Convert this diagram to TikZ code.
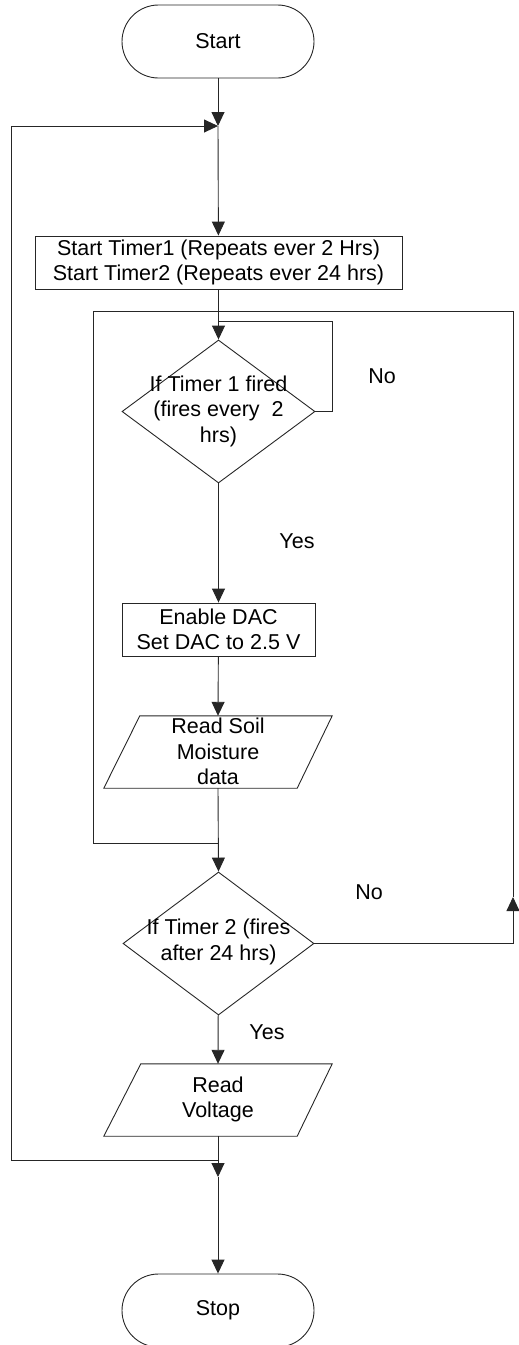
\documentclass[tikz,border=0pt]{standalone}
\usepackage{fontspec}
\setmainfont{Liberation Sans}
\usetikzlibrary{shapes.geometric,arrows.meta,calc}
\begin{document}
\begin{tikzpicture}[x=1pt,y=-1pt,
  every node/.style={font=\fontsize{21.5}{25.5}\selectfont},
  line/.style={draw=black!85, line width=0.9pt},
  arr/.style={line, -{Triangle[length=14pt,width=13pt]}},
  term/.style={line, rectangle, rounded corners=36.5pt, minimum width=192pt, minimum height=73pt, inner sep=0pt},
  procbox/.style={line, rectangle, inner sep=0pt, align=center},
  decision/.style={line, diamond, inner sep=0pt, minimum width=193pt, minimum height=143pt},
  iobox/.style={rectangle, minimum width=228pt, minimum height=72pt, inner sep=0pt},
  txt/.style={inner sep=0pt, align=center}]
\useasboundingbox (0,0) rectangle (519,1345);

% shapes
\node[term] (start) at (218,41.5) {Start};
\node[procbox, minimum width=367pt, minimum height=53pt] (timer) at (218.5,262.5)
  {Start Timer1 (Repeats ever 2 Hrs)\\Start Timer2 (Repeats ever 24 hrs)};
\node[decision] (d1) at (218.5,411.5) {};
\node[txt] (d1t) at (218.5,411) {If Timer 1 fired\\(fires every\ \ 2\\hrs)};
\node[procbox, minimum width=193pt, minimum height=53pt] (dac) at (218.5,629.5)
  {Enable DAC\\Set DAC to 2.5 V};
\node[iobox] (p1) at (218,752) {};
\draw[line] (p1.south west) -- ($(p1.north west)+(36,0)$) -- (p1.north east)
  -- ($(p1.south east)+(-35,0)$) -- cycle;
\node[txt] (p1t) at (218,751.5) {Read Soil\\Moisture\\data};
\node[decision, minimum width=191pt] (d2) at (218.5,943.5) {};
\node[txt] (d2t) at (218.5,942) {If Timer 2 (fires\\after 24 hrs)};
\node[iobox] (p2) at (218,1100) {};
\draw[line] (p2.south west) -- ($(p2.north west)+(37,0)$) -- (p2.north east)
  -- ($(p2.south east)+(-35,0)$) -- cycle;
\node[txt] (p2t) at (218,1099.5) {Read\\Voltage};
\node[term] (stop) at (218,1310.5) {Stop};

% labels
\node[txt] (no1) at (382,376) {No};
\node[txt] (yes1) at (297,541) {Yes};
\node[txt] (no2) at (369,892) {No};
\node[txt] (yes2) at (267,1032) {Yes};

% junction and corner points
\coordinate (j1) at (218,126);
\coordinate (j2) at (218,321);
\coordinate (nl) at (332,321);
\coordinate (j3) at (218,843);
\coordinate (j4) at (218,1160);
\coordinate (j5) at (218,1177);
\coordinate (lb) at (11,1160);
\coordinate (lt) at (11,126);
\coordinate (obl) at (93,843);
\coordinate (otl) at (93,311);
\coordinate (otr) at (513,311);
\coordinate (orr) at (513,897);

% connectors
\draw[arr] (start) -- (j1);
\draw[arr] (j4) -- (lb) -- (lt) -- (j1);
\draw[arr] (j1) -- (timer);
\draw[arr] (timer) -- (d1);
\draw[line] (d1.east) -| (nl) -- (j2);
\draw[arr] (d1) -- (dac);
\draw[arr] (dac) -- (p1.north);
\draw[arr] (p1.south) -- (d2.north);
\draw[line] (j3) -- (obl) -- (otl) -- (otr) -- (orr);
\draw[arr] (d2.east) -| (orr);
\draw[arr] (d2) -- (p2.north);
\draw[arr] (p2.south) -- (j5);
\draw[arr] (j5) -- (stop);
\end{tikzpicture}
\end{document}
